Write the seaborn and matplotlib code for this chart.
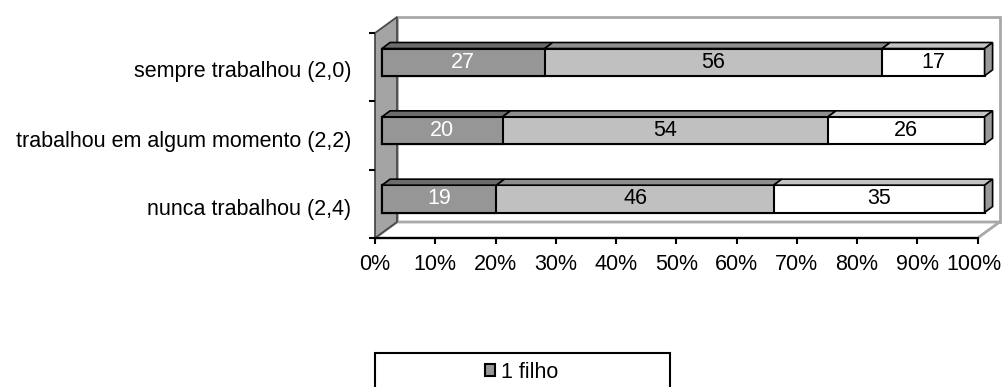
import matplotlib
matplotlib.use("Agg")
import matplotlib.pyplot as plt
import seaborn as sns
import pandas as pd
import numpy as np
from matplotlib.patches import Polygon, Rectangle, Patch
from matplotlib.transforms import ScaledTranslation, IdentityTransform

# --- data -------------------------------------------------------------
categories = ["sempre trabalhou (2,0)",
              "trabalhou em algum momento (2,2)",
              "nunca trabalhou (2,4)"]
series_1 = [27, 20, 19]   # 1 filho
series_2 = [56, 54, 46]
series_3 = [17, 26, 35]
legend_labels = ["1 filho"]
x_ticks = [0, 10, 20, 30, 40, 50, 60, 70, 80, 90, 100]

front_colors = ["#969696", "#c0c0c0", "#ffffff"]
top_colors = ["#6c6c6c", "#8e8e8e", "#c4c4c4"]
side_color = "#9a9a9a"
text_colors = ["white", "black", "black"]
FS = 15.5

sns.set_theme(style="white")
plt.rcParams["font.family"] = ["Liberation Sans", "DejaVu Sans"]
plt.rcParams["text.color"] = "black"
plt.rcParams["xtick.color"] = "black"
plt.rcParams["ytick.color"] = "black"

W, H, DPI = 1003, 387, 100
fig = plt.figure(figsize=(W / DPI, H / DPI), dpi=DPI)
ax = fig.add_axes([375 / W, (H - 238) / H, (977.6 - 375) / W, (238 - 33) / H])

segments = np.array([series_1, series_2, series_3], dtype=float)
cumulative = np.cumsum(segments, axis=0)
starts = cumulative - segments

# stacked bars: draw the running totals from longest to shortest
for k in [2, 1, 0]:
    df = pd.DataFrame({"categoria": categories, "valor": cumulative[k]})
    sns.barplot(data=df, x="valor", y="categoria", orient="h", ax=ax,
                color=front_colors[k], saturation=1, width=0.4,
                edgecolor="black", linewidth=1.5, zorder=3)

ax.set_xlim(0, 100)
ax.set_ylim(2.5, -0.5)

# bars sit a little behind the front plane of the floor
bar_dx, bar_dy = 7, 5          # pixels
depth_dx, depth_dy = 8, 6      # bar depth in pixels
shift = ScaledTranslation(bar_dx / DPI, bar_dy / DPI, fig.dpi_scale_trans)
for p in ax.patches:
    p.set_transform(ax.transData + shift)
    p.set_clip_on(False)

# walls and floor
wall_dx, wall_dy = 22, 16
(ax0, ay0), (ax1, ay1) = ax.transAxes.transform([(0, 0), (1, 1)])
ident = IdentityTransform()
left_wall = Polygon([(ax0, ay0), (ax0, ay1), (ax0 + wall_dx, ay1 + wall_dy),
                     (ax0 + wall_dx, ay0 + wall_dy)], closed=True,
                    facecolor="#a4a4a4", edgecolor="#4a4a4a", linewidth=1.3,
                    transform=ident, clip_on=False, zorder=0.5)
back_wall = Rectangle((ax0 + wall_dx, ay0 + wall_dy), ax1 - ax0, ay1 - ay0,
                      facecolor="white", edgecolor="#a8a8a8", linewidth=2,
                      transform=ident, clip_on=False, zorder=0.4)
floor = Polygon([(ax0, ay0), (ax1, ay0), (ax1 + wall_dx, ay0 + wall_dy),
                 (ax0 + wall_dx, ay0 + wall_dy)], closed=True,
                facecolor="white", edgecolor="#a8a8a8", linewidth=2,
                transform=ident, clip_on=False, zorder=0.45)
for patch in (back_wall, floor, left_wall):
    ax.add_artist(patch)

# top and side faces of every segment
half = 0.2
for i in range(len(categories)):
    for k in range(3):
        x0, x1 = starts[k, i], cumulative[k, i]
        (px0, py_top), (px1, _) = ax.transData.transform([(x0, i - half), (x1, i - half)])
        px0 += bar_dx; px1 += bar_dx; py_top += bar_dy
        top = Polygon([(px0, py_top), (px1, py_top),
                       (px1 + depth_dx, py_top + depth_dy),
                       (px0 + depth_dx, py_top + depth_dy)], closed=True,
                      facecolor=top_colors[k], edgecolor="black", linewidth=1.2,
                      transform=ident, clip_on=False, zorder=4)
        ax.add_artist(top)
        ax.text((x0 + x1) / 2, i, f"{int(segments[k, i])}", ha="center", va="center",
                fontsize=FS, color=text_colors[k], transform=ax.transData + shift,
                zorder=6)
    (sx, sy_top), (_, sy_bot) = ax.transData.transform([(cumulative[2, i], i - half),
                                                       (cumulative[2, i], i + half)])
    sx += bar_dx; sy_top += bar_dy; sy_bot += bar_dy
    side = Polygon([(sx, sy_bot), (sx, sy_top), (sx + depth_dx, sy_top + depth_dy),
                    (sx + depth_dx, sy_bot + depth_dy)], closed=True,
                   facecolor=side_color, edgecolor="black", linewidth=1.2,
                   transform=ident, clip_on=False, zorder=4)
    ax.add_artist(side)

# axes styling
for s in ["top", "right", "left"]:
    ax.spines[s].set_visible(False)
ax.spines["bottom"].set_color("black")
ax.spines["bottom"].set_linewidth(1.5)
ax.spines["bottom"].set_zorder(5)
ax.set_xticks(x_ticks)
ax.set_xticklabels([f"{t}%" for t in x_ticks], fontsize=FS)
ax.set_yticks(range(len(categories)))
ax.set_yticklabels(categories, fontsize=FS)
ax.set_yticks([-0.5, 0.5, 1.5, 2.5], minor=True)
ax.tick_params(axis="y", which="major", length=0, pad=17)
ax.tick_params(axis="y", which="minor", left=True, length=4.5, width=1.5,
               color="black", direction="out")
ax.tick_params(axis="x", bottom=True, length=4.5, width=1.5, color="black",
               direction="out", pad=7)
for lbl, dy in zip(ax.get_yticklabels(), [-2, -3, -3]):
    lbl.set_transform(lbl.get_transform() + ScaledTranslation(0, dy / DPI, fig.dpi_scale_trans))
# keep the last percentage label inside the canvas
last = ax.get_xticklabels()[-1]
last.set_transform(last.get_transform() + ScaledTranslation(-4 / DPI, 0, fig.dpi_scale_trans))
ax.set_xlabel("")
ax.set_ylabel("")
ax.grid(False)
ax.patch.set_visible(False)

# legend box
fig.patches.append(Rectangle((375 / W, -0.1), 295 / W, 0.1 + (H - 353) / H,
                             transform=fig.transFigure, facecolor="white",
                             edgecolor="black", linewidth=1.5))
handles = [Patch(facecolor=front_colors[0], edgecolor="black", linewidth=1.5)]
fig.legend(handles, legend_labels, loc="center", bbox_to_anchor=(522 / W, 1 - 372 / H),
           frameon=False, fontsize=FS, handlelength=0.45, handleheight=0.45,
           handletextpad=0.3)

fig.savefig("out.png", dpi=DPI)
